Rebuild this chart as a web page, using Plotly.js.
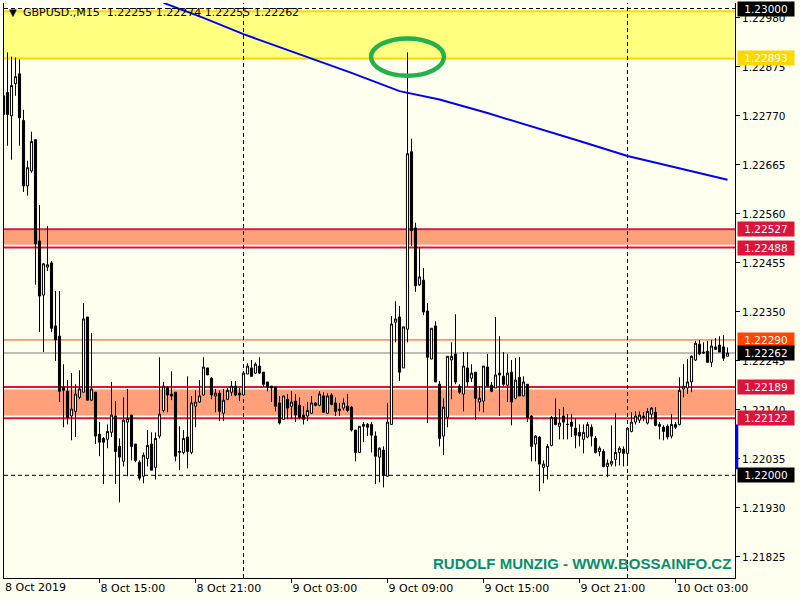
<!DOCTYPE html>
<html>
<head>
<meta charset="utf-8">
<script src="https://cdn.plot.ly/plotly-3.0.1.min.js"></script>
<style>
html,body{margin:0;padding:0;background:#FFFFF0;}
#chart{width:800px;height:600px;}
</style>
</head>
<body>
<div id="chart"></div>
<script>
// ---------------- DATA ----------------
const symbolTitle = "GBPUSD.,M15  1.22255 1.22274 1.22255 1.22262";
const watermark = "RUDOLF MUNZIG - WWW.BOSSAINFO.CZ";
const startUTC = Date.UTC(2019, 9, 8, 9, 0);   // first bar: 8 Oct 2019 09:00
const barMinutes = 15;

const open = [
1.22773,1.22820,1.22770,1.22839,1.22860,1.22760,1.22620,1.22652,1.22719,1.22502,
1.22386,1.22446,1.22455,1.22320,1.22298,1.22189,1.22180,1.22127,1.22137,1.22167,
1.22178,1.22339,1.22161,1.22178,1.22088,1.22079,1.22077,1.22092,1.22127,1.22062,
1.22030,1.22114,1.22129,1.22067,1.22028,1.21998,1.22036,1.22067,1.22017,1.22084,
1.22139,1.22189,1.22174,1.22178,1.22049,1.22049,1.22082,1.22049,1.22148,1.22157,
1.22172,1.22230,1.22208,1.22170,1.22176,1.22133,1.22163,1.22178,1.22191,1.22176,
1.22172,1.22217,1.22230,1.22219,1.22234,1.22221,1.22200,1.22191,1.22189,1.22155,
1.22120,1.22163,1.22148,1.22159,1.22150,1.22129,1.22127,1.22133,1.22155,1.22150,
1.22170,1.22133,1.22172,1.22155,1.22142,1.22144,1.22148,1.22146,1.22097,1.22049,
1.22109,1.22109,1.22109,1.22084,1.22039,1.22054,1.21998,1.22109,1.22328,1.22339,
1.22230,1.22313,1.22693,1.22530,1.22408,1.22418,1.22352,1.22249,1.22320,1.22195,
1.22084,1.22124,1.22247,1.22260,1.22191,1.22174,1.22230,1.22208,1.22221,1.22157,
1.22159,1.22232,1.22193,1.22187,1.22219,1.22212,1.22193,1.22221,1.22165,1.22210,
1.22170,1.22195,1.22127,1.22067,1.22082,1.22017,1.22019,1.22064,1.22124,1.22105,
1.22127,1.22109,1.22114,1.22101,1.22092,1.22077,1.22082,1.22103,1.22079,1.22051,
1.22051,1.22019,1.22024,1.22034,1.22049,1.22056,1.22047,1.22094,1.22114,1.22118,
1.22127,1.22112,1.22131,1.22135,1.22109,1.22103,1.22105,1.22084,1.22109,1.22109,
1.22185,1.22187,1.22200,1.22247,1.22281,1.22264,1.22266,1.22242,1.22275,1.22279,
1.22275,1.22255
];
const high = [
1.22833,1.22906,1.22897,1.22895,1.22891,1.22783,1.22674,1.22736,1.22719,1.22579,
1.22455,1.22534,1.22459,1.22395,1.22395,1.22238,1.22204,1.22219,1.22195,1.22225,
1.22369,1.22339,1.22305,1.22178,1.22114,1.22082,1.22109,1.22200,1.22159,1.22079,
1.22167,1.22185,1.22129,1.22067,1.22032,1.22049,1.22097,1.22092,1.22092,1.22253,
1.22200,1.22191,1.22223,1.22178,1.22105,1.22097,1.22212,1.22170,1.22182,1.22204,
1.22253,1.22230,1.22210,1.22185,1.22182,1.22185,1.22187,1.22202,1.22202,1.22187,
1.22219,1.22240,1.22247,1.22242,1.22253,1.22221,1.22200,1.22191,1.22189,1.22170,
1.22170,1.22174,1.22180,1.22174,1.22167,1.22148,1.22157,1.22170,1.22157,1.22180,
1.22178,1.22176,1.22176,1.22167,1.22155,1.22165,1.22174,1.22148,1.22097,1.22105,
1.22114,1.22112,1.22114,1.22094,1.22060,1.22062,1.22155,1.22341,1.22373,1.22363,
1.22318,1.22906,1.22721,1.22541,1.22489,1.22444,1.22369,1.22315,1.22330,1.22202,
1.22165,1.22255,1.22285,1.22345,1.22195,1.22264,1.22264,1.22238,1.22221,1.22191,
1.22234,1.22260,1.22200,1.22339,1.22298,1.22264,1.22260,1.22247,1.22251,1.22253,
1.22212,1.22195,1.22129,1.22086,1.22084,1.22032,1.22067,1.22127,1.22165,1.22142,
1.22146,1.22131,1.22131,1.22122,1.22109,1.22109,1.22114,1.22109,1.22084,1.22062,
1.22056,1.22034,1.22107,1.22133,1.22062,1.22062,1.22101,1.22135,1.22137,1.22137,
1.22135,1.22144,1.22146,1.22146,1.22114,1.22107,1.22109,1.22131,1.22114,1.22210,
1.22238,1.22249,1.22257,1.22288,1.22290,1.22285,1.22288,1.22290,1.22294,1.22298,
1.22300,1.22274
];
const low = [
1.22640,1.22706,1.22676,1.22813,1.22706,1.22607,1.22599,1.22648,1.22408,1.22307,
1.22264,1.22438,1.22307,1.22245,1.22157,1.22103,1.22109,1.22075,1.22082,1.22163,
1.22178,1.22161,1.22159,1.22067,1.22041,1.21981,1.22058,1.22082,1.21981,1.21942,
1.22019,1.21998,1.22032,1.22028,1.21989,1.21983,1.22019,1.22011,1.21991,1.22079,
1.22135,1.22135,1.22161,1.22030,1.22011,1.22045,1.22015,1.22045,1.22103,1.22155,
1.22170,1.22215,1.22163,1.22135,1.22116,1.22116,1.22161,1.22170,1.22170,1.22159,
1.22172,1.22217,1.22212,1.22217,1.22217,1.22189,1.22180,1.22157,1.22137,1.22109,
1.22120,1.22120,1.22122,1.22114,1.22120,1.22109,1.22116,1.22131,1.22148,1.22148,
1.22135,1.22131,1.22150,1.22127,1.22127,1.22139,1.22135,1.22094,1.22030,1.22049,
1.22071,1.22084,1.22049,1.21981,1.21985,1.21974,1.21998,1.22109,1.22285,1.22202,
1.22230,1.22285,1.22491,1.22393,1.22406,1.22343,1.22112,1.22249,1.22200,1.22062,
1.22043,1.22103,1.22163,1.22195,1.22174,1.22137,1.22189,1.22200,1.22118,1.22137,
1.22135,1.22189,1.22178,1.22187,1.22127,1.22191,1.22157,1.22107,1.22163,1.22170,
1.22170,1.22114,1.22030,1.22030,1.21966,1.21983,1.21991,1.22062,1.22107,1.22077,
1.22077,1.22077,1.22082,1.22058,1.22062,1.22047,1.22079,1.22062,1.22047,1.22041,
1.22017,1.21996,1.22019,1.22019,1.22021,1.22019,1.22024,1.22092,1.22109,1.22112,
1.22116,1.22109,1.22120,1.22105,1.22077,1.22075,1.22077,1.22079,1.22099,1.22107,
1.22167,1.22174,1.22178,1.22245,1.22257,1.22260,1.22242,1.22232,1.22268,1.22264,
1.22245,1.22255
];
const close = [
1.22813,1.22773,1.22835,1.22854,1.22766,1.22620,1.22659,1.22715,1.22496,1.22384,
1.22453,1.22451,1.22315,1.22290,1.22180,1.22182,1.22124,1.22142,1.22174,1.22185,
1.22335,1.22161,1.22185,1.22084,1.22071,1.22071,1.22094,1.22129,1.22051,1.22039,
1.22118,1.22122,1.22062,1.22032,1.21994,1.22043,1.22064,1.22011,1.22079,1.22131,
1.22191,1.22172,1.22170,1.22041,1.22051,1.22079,1.22051,1.22155,1.22157,1.22170,
1.22232,1.22215,1.22172,1.22176,1.22137,1.22161,1.22182,1.22191,1.22172,1.22172,
1.22219,1.22234,1.22212,1.22238,1.22219,1.22195,1.22189,1.22187,1.22148,1.22112,
1.22170,1.22144,1.22157,1.22129,1.22124,1.22120,1.22139,1.22155,1.22150,1.22174,
1.22135,1.22170,1.22152,1.22137,1.22139,1.22155,1.22139,1.22097,1.22049,1.22105,
1.22105,1.22103,1.22086,1.22041,1.22058,1.22000,1.22114,1.22324,1.22335,1.22221,
1.22318,1.22689,1.22524,1.22406,1.22425,1.22350,1.22253,1.22315,1.22200,1.22079,
1.22146,1.22255,1.22255,1.22200,1.22178,1.22234,1.22200,1.22219,1.22165,1.22165,
1.22234,1.22191,1.22180,1.22215,1.22215,1.22195,1.22219,1.22157,1.22204,1.22170,
1.22200,1.22124,1.22062,1.22084,1.22024,1.22024,1.22062,1.22124,1.22109,1.22112,
1.22114,1.22109,1.22105,1.22086,1.22084,1.22092,1.22109,1.22084,1.22049,1.22058,
1.22019,1.22026,1.22030,1.22049,1.22058,1.22047,1.22101,1.22114,1.22127,1.22129,
1.22124,1.22137,1.22144,1.22107,1.22105,1.22094,1.22082,1.22109,1.22103,1.22182,
1.22191,1.22200,1.22255,1.22283,1.22260,1.22262,1.22242,1.22277,1.22270,1.22264,
1.22251,1.22262
];

// moving average (blue) read at sample bars
const maBars   = [40, 50, 60, 76, 87, 99, 109, 121, 132, 144, 156, 169, 181];
const maValues = [1.23012,1.22980,1.22945,1.22896,1.22862,1.22823,1.22805,1.22776,1.22748,1.22716,1.22684,1.22658,1.22633];

// x tick labels (every 24 bars = 6 hours)
const xTickBars   = [0, 24, 48, 72, 96, 120, 144, 168];
const xTickLabels = ["8 Oct 2019","8 Oct 15:00","8 Oct 21:00","9 Oct 03:00","9 Oct 09:00","9 Oct 15:00","9 Oct 21:00","10 Oct 03:00"];

// y tick labels
const yTickVals = [1.21825,1.21930,1.22035,1.22140,1.22245,1.22350,1.22455,1.22560,1.22665,1.22770,1.22875,1.22980];

// horizontal levels
const yellowZone = [1.22994, 1.22893];
const redZones   = [[1.22527, 1.22488], [1.22189, 1.22122]];
const orangeLevel = 1.22290;
const bidLevel    = 1.22262;
const roundLevels = [1.23000, 1.22000];
const blueMarker  = [1.22109, 1.22013];

// price-scale labels (value, background)
const priceLabels = [
  [1.23000, "#000000"], [1.22893, "#FFD700"], [1.22527, "#DC143C"], [1.22488, "#DC143C"],
  [1.22290, "#FF4500"], [1.22262, "#000000"], [1.22189, "#DC143C"], [1.22122, "#DC143C"],
  [1.22000, "#000000"]
];

// ---------------- BUILD ----------------
const bars = open.map((_, i) => i);
const separatorBars = bars.filter(i => {
  const d = new Date(startUTC + i * barMinutes * 60000);
  return d.getUTCHours() === 0 && d.getUTCMinutes() === 0;
});
let spikeIdx = 0;
high.forEach((h, i) => { if (h > high[spikeIdx] || (h === high[spikeIdx] && i > 50)) spikeIdx = i; });

const FONT = "DejaVu Sans";
const xRange = [0.125, 182.875];

const traces = [
  {
    type: "candlestick", x: bars, open: open, high: high, low: low, close: close,
    increasing: { line: { color: "#000000", width: 1 }, fillcolor: "#FFFFFF" },
    decreasing: { line: { color: "#000000", width: 1 }, fillcolor: "#000000" },
    whiskerwidth: 0, hoverinfo: "skip", showlegend: false
  },
  {
    type: "scatter", mode: "lines", x: maBars, y: maValues,
    line: { color: "#0000FF", width: 2 }, hoverinfo: "skip", showlegend: false
  }
];

const shapes = [];
const hline = (y, color, width, dash, layer) => ({
  type: "line", xref: "paper", x0: 0, x1: 1, yref: "y", y0: y, y1: y,
  line: { color: color, width: width, dash: dash || "solid" }, layer: layer || "below"
});
// yellow zone
shapes.push({ type: "rect", xref: "paper", x0: 0, x1: 1, yref: "y", y0: yellowZone[1], y1: yellowZone[0],
  fillcolor: "#FFFF80", line: { width: 0 }, layer: "below" });
shapes.push(hline(yellowZone[0], "#FFD700", 2));
shapes.push(hline(yellowZone[1], "#FFD700", 2));
// red zones
redZones.forEach(([top, bot], k) => {
  shapes.push({ type: "rect", xref: "paper", x0: 0, x1: 1, yref: "y",
    y0: bot + 0.00006, y1: top - (k === 1 ? 0.00005 : 0.00002),
    fillcolor: "#FFA07A", line: { width: 0 }, layer: "below" });
  shapes.push(hline(top, "#DC143C", 2));
  shapes.push(hline(bot, "#DC143C", 2));
});
shapes.push(hline(orangeLevel, "#FF4500", 1));
shapes.push(hline(bidLevel, "#7F7F7F", 1));
roundLevels.forEach(v => shapes.push(hline(v, "#000000", 1, "4px,3px")));
separatorBars.forEach(b => shapes.push({
  type: "line", xref: "x", x0: b, x1: b, yref: "paper", y0: 0, y1: 1,
  line: { color: "#000000", width: 1, dash: "4px,3px" }, layer: "below"
}));
// green highlight ellipse around spike
shapes.push({
  type: "circle", xref: "x", yref: "y",
  x0: spikeIdx - 9.1, x1: spikeIdx + 9.1,
  y0: high[spikeIdx] - 0.0001 - 0.0004, y1: high[spikeIdx] - 0.0001 + 0.0004,
  line: { color: "#22B14C", width: 4.5 }, layer: "above"
});
// blue marker on price scale
shapes.push({ type: "rect", xref: "paper", x0: 1.0003, x1: 1.0045, yref: "y", y0: blueMarker[1], y1: blueMarker[0],
  fillcolor: "#0000FF", line: { width: 0 }, layer: "above" });

const annotations = [];
annotations.push({ xref: "paper", yref: "paper", x: 0, y: 1, xanchor: "left", yanchor: "middle",
  xshift: 3, yshift: -9, text: "▼", showarrow: false, font: { family: FONT, size: 10, color: "#000000" } });
annotations.push({ xref: "paper", yref: "paper", x: 0, y: 1, xanchor: "left", yanchor: "middle",
  xshift: 17, yshift: -9, text: symbolTitle, showarrow: false, font: { family: FONT, size: 11, color: "#000000" } });
annotations.push({ xref: "paper", yref: "paper", x: 1, y: 0, xanchor: "right", yanchor: "middle",
  xshift: -2, yshift: 15, text: "<b>" + watermark + "</b>", showarrow: false,
  font: { family: "Liberation Sans", size: 15, color: "#078F6C" } });
// tick labels that fall on / before the left edge of the range (e.g. the first bar)
xTickBars.forEach((b, k) => {
  if (b < xRange[0]) {
    annotations.push({ xref: "paper", yref: "paper",
      x: (b - xRange[0]) / (xRange[1] - xRange[0]), y: 0,
      xanchor: "left", yanchor: "middle", xshift: -1, yshift: -9,
      text: xTickLabels[k], showarrow: false, font: { family: FONT, size: 11, color: "#000000" } });
  }
});
priceLabels.forEach(([v, bg]) => annotations.push({
  xref: "paper", yref: "y", x: 1, y: v, xanchor: "left", yanchor: "middle", xshift: 2,
  text: v.toFixed(5), showarrow: false, bgcolor: bg, borderpad: 1, width: 54, height: 12, align: "center",
  font: { family: FONT, size: 10.5, color: "#FFFFFF" }
}));

const layout = {
  width: 800, height: 600,
  margin: { l: 4, r: 65, t: 3, b: 22, pad: 0 },
  paper_bgcolor: "#FFFFF0", plot_bgcolor: "#FFFFF0",
  showlegend: false, boxgap: 0.25, hovermode: false,
  xaxis: {
    type: "linear", range: xRange, fixedrange: true,
    rangeslider: { visible: false },
    showgrid: false, zeroline: false,
    showline: true, linecolor: "#000000", linewidth: 1,
    ticks: "outside", ticklen: 4, tickcolor: "#000000", tickwidth: 1,
    tickmode: "array", tickvals: xTickBars, ticktext: xTickLabels,
    ticklabelposition: "outside right",
    tickfont: { family: FONT, size: 11, color: "#000000" }
  },
  yaxis: {
    side: "right", range: [1.2178, 1.230118], fixedrange: true,
    showgrid: false, zeroline: false,
    showline: true, mirror: true, linecolor: "#000000", linewidth: 1,
    ticks: "outside", ticklen: 4, tickcolor: "#000000",
    tickmode: "array", tickvals: yTickVals, ticktext: yTickVals.map(v => v.toFixed(5)),
    tickfont: { family: FONT, size: 10.5, color: "#000000" }
  },
  shapes: shapes,
  annotations: annotations
};

Plotly.newPlot("chart", traces, layout, { displayModeBar: false, staticPlot: true });
</script>
</body>
</html>
